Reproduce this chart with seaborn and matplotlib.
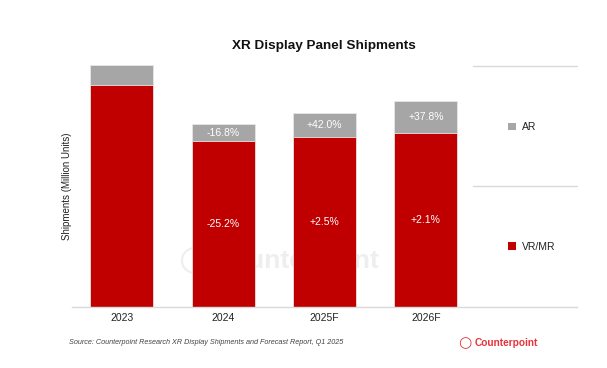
import matplotlib
matplotlib.use("Agg")
import matplotlib.pyplot as plt
from matplotlib.lines import Line2D
from matplotlib.patches import Patch
import pandas as pd
import seaborn as sns

# data (bar heights in relative units)
years = ["2023", "2024", "2025F", "2026F"]
vr_mr = [22.2, 16.6, 17.0, 17.4]
ar = [2.0, 1.665, 2.36, 3.25]
vr_labels = ["", "-25.2%", "+2.5%", "+2.1%"]
ar_labels = ["", "-16.8%", "+42.0%", "+37.8%"]

RED = "#C00000"
GRAY = "#A6A6A6"

df = pd.DataFrame({"year": years, "VR/MR": vr_mr, "AR": ar})
df["total"] = df["VR/MR"] + df["AR"]

sns.set_theme(style="white")
plt.rcParams["font.family"] = ["Liberation Sans", "DejaVu Sans"]

fig = plt.figure(figsize=(6.07, 3.68), dpi=100)
ax = fig.add_axes([72 / 607, 1 - 307 / 368, 505 / 607, 242 / 368])

sns.barplot(data=df, x="year", y="total", color=GRAY, width=0.62, saturation=1,
            edgecolor="#E6E6E6", linewidth=0.6, ax=ax)
sns.barplot(data=df, x="year", y="VR/MR", color=RED, width=0.62, saturation=1,
            edgecolor="#E6E6E6", linewidth=0.6, ax=ax)

for i, row in df.iterrows():
    if ar_labels[i]:
        ax.text(i, row["VR/MR"] + row["AR"] / 2, ar_labels[i], ha="center", va="center",
                color="white", fontsize=7.5)
    if vr_labels[i]:
        ax.text(i, row["VR/MR"] / 2, vr_labels[i], ha="center", va="center",
                color="white", fontsize=7.5)

# faint watermark behind the bars
ax.text(195 / 607, 1 - 260 / 368, "\u25CB", transform=fig.transFigure, ha="center",
        va="center", fontsize=26, color="#EEEEEE", family=["DejaVu Sans"], zorder=0.5)
ax.text(297 / 607, 1 - 261 / 368, "Counterpoint", transform=fig.transFigure, ha="center",
        va="center", fontsize=19, fontweight="bold", color="#EEEEEE", zorder=0.5)

ax.set_xlim(-0.49, 4.49)
ax.set_ylim(0, 24.2)
ax.set_yticks([])
ax.set_xlabel("")
ax.set_ylabel("Shipments (Million Units)", fontsize=7, color="#222222", labelpad=0)
ax.tick_params(axis="x", length=0, labelsize=7.5, colors="#222222", pad=4)
for s in ["top", "right", "left"]:
    ax.spines[s].set_visible(False)
ax.spines["bottom"].set_color("#D9D9D9")
ax.spines["bottom"].set_linewidth(1)

# legend panel on the right with separator lines
for yy in [66, 186]:
    fig.add_artist(Line2D([473 / 607, 577 / 607], [1 - yy / 368] * 2,
                          color="#D9D9D9", linewidth=1))
handles = [Patch(facecolor=GRAY, edgecolor="none"), Patch(facecolor=RED, edgecolor="none")]
fig.legend(handles, ["AR", "VR/MR"], loc="center left", bbox_to_anchor=(499 / 607, 1 - 187 / 368),
           frameon=False, fontsize=7.5, handlelength=0.7, handleheight=0.7,
           handletextpad=0.6, labelspacing=10.5, labelcolor="#222222")

fig.text(324 / 607, 1 - 46 / 368, "XR Display Panel Shipments", ha="center", va="center",
         fontsize=9.7, fontweight="bold", color="#111111")

fig.text(69 / 607, 1 - 343 / 368,
         "Source: Counterpoint Research XR Display Shipments and Forecast Report, Q1 2025",
         ha="left", va="center", fontsize=5.2, style="italic", color="#444444")
fig.text(465 / 607, 1 - 343 / 368, "\u25CB", ha="center", va="center",
         fontsize=11, fontweight="bold", color="#E8333A", family=["DejaVu Sans"])
fig.text(475 / 607, 1 - 343 / 368, "Counterpoint", ha="left", va="center",
         fontsize=7.3, fontweight="bold", color="#E8333A")

fig.savefig("out.png", dpi=100, facecolor="white")
